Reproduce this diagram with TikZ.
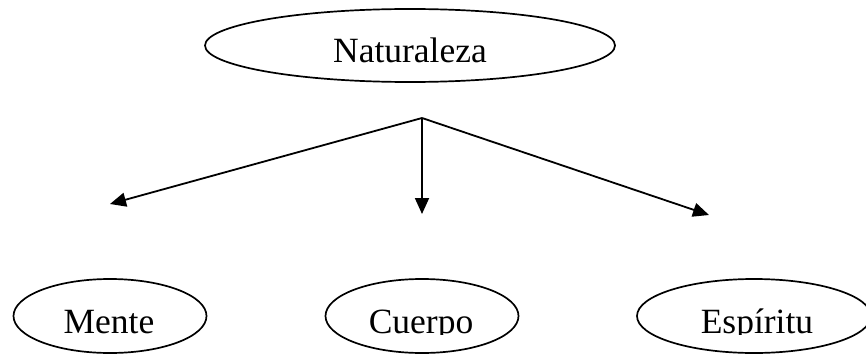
\documentclass[tikz,border=0pt]{standalone}
\usepackage{fontspec}
\setmainfont{Liberation Serif}
\usetikzlibrary{shapes.geometric,arrows.meta}
\begin{document}
\begin{tikzpicture}[x=1pt,y=-1pt,
  oval/.style={draw, line width=1.7pt, ellipse, inner sep=0pt},
  bigtext/.style={font=\fontsize{35.5}{42}\selectfont},
  lbl/.style={bigtext, inner sep=0pt},
  arr/.style={line width=1.8pt, -{Triangle[length=16pt,width=14pt]}}]
\useasboundingbox (0,0) rectangle (866,353);
\node[oval, bigtext, minimum width=410pt, minimum height=73pt,
      text height=35pt, text depth=0pt] (nat) at (410,45.5) {Naturaleza};
\coordinate (fork) at (422,118);
\coordinate (tl) at (110,204);
\coordinate (tc) at (422,214);
\coordinate (tr) at (709,215);
\draw[arr] (fork) -- (tl);
\draw[arr] (fork) -- (tc);
\draw[arr] (fork) -- (tr);
\node[oval, minimum width=193pt, minimum height=74pt] (mente) at (110,316) {};
\node[oval, minimum width=193pt, minimum height=74pt] (cuerpo) at (422,316) {};
\node[oval, minimum width=234pt, minimum height=74pt] (espiritu) at (754,316) {};
\begin{scope}
\clip (0,0) rectangle (866,334.5);
\node[lbl, anchor=base] (lm) at (109,333) {Mente};
\node[lbl, anchor=base] (lc) at (421,333) {Cuerpo};
\node[lbl, anchor=base] (le) at (757,333) {Espíritu};
\end{scope}
\end{tikzpicture}
\end{document}
